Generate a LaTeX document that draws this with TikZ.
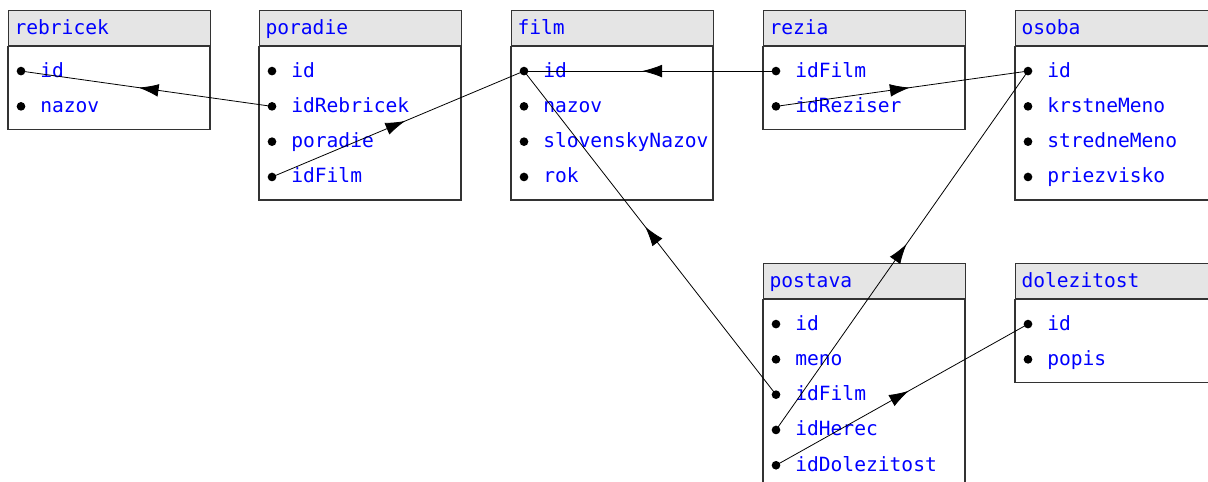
\documentclass[tikz,border=0pt]{standalone}
\usepackage{fontspec}
\setmonofont{DejaVu Sans Mono}
\usetikzlibrary{arrows.meta,decorations.markings}

\newcommand\tablefont{\ttfamily\fontsize{14.7pt}{17pt}\selectfont}

\tikzset{
  tablehead/.style={draw=black!80, line width=0.8pt, fill=gray!20,
    anchor=north west, minimum height=26.25pt, text width=142.5pt,
    text height=13pt, text depth=4pt, inner ysep=2pt,
    inner xsep=4.5pt, align=left, text=blue, font=\tablefont},
  tablebody/.style={draw=black!80, line width=0.8pt},
  fielddot/.style={circle, fill=black, inner sep=0pt, minimum size=6.5pt},
  fieldname/.style={anchor=base west, inner sep=0pt, text=blue,
    font=\tablefont},
  fk/.style={line width=0.6pt, postaction={decorate},
    decoration={markings, mark=at position 0.5 with
      {\arrow[xshift=6pt]{Latex[length=15pt,width=9.5pt]}}}}
}

% name, x, y, number of rows, fields
\newcommand\dbtable[5]{
  \node[tablehead] (#1) at (#2,#3) {#1};
  \draw[tablebody] (#1.south west) rectangle ++(202,{48+(#4-1)*35.3});
  \foreach \f [count=\i] in {#5}
    \path (#1.south west) ++(13,{25+(\i-1)*35.3}) node[fielddot] (#1-\f) {}
      ++(19,6) node[fieldname] {\f};
}

\begin{document}
\begin{tikzpicture}[x=0.75pt, y=-0.75pt]
  \useasboundingbox (0,0) rectangle (1208,482);
  \clip (0,0) rectangle (1208,482);

  \dbtable{rebricek}{8}{10}{2}{id,nazov}
  \dbtable{poradie}{259}{10}{4}{id,idRebricek,poradie,idFilm}
  \dbtable{film}{511}{10}{4}{id,nazov,slovenskyNazov,rok}
  \dbtable{rezia}{763}{10}{2}{idFilm,idReziser}
  \dbtable{osoba}{1015}{10}{4}{id,krstneMeno,stredneMeno,priezvisko}
  \dbtable{postava}{763}{263}{5}{id,meno,idFilm,idHerec,idDolezitost}
  \dbtable{dolezitost}{1015}{263}{2}{id,popis}

  \draw[fk] (poradie-idRebricek.center) -- (rebricek-id.center);
  \draw[fk] (poradie-idFilm.center) -- (film-id.center);
  \draw[fk] (rezia-idFilm.center) -- (film-id.center);
  \draw[fk] (rezia-idReziser.center) -- (osoba-id.center);
  \draw[fk] (postava-idFilm.center) -- (film-id.center);
  \draw[fk] (postava-idHerec.center) -- (osoba-id.center);
  \draw[fk] (postava-idDolezitost.center) -- (dolezitost-id.center);
\end{tikzpicture}
\end{document}
